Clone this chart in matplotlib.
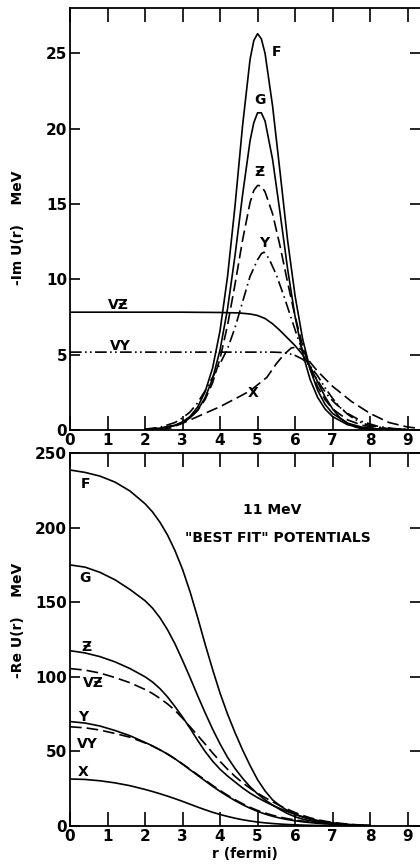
# imaginary and real parts of the 11 MeV "best fit" optical potentials
import matplotlib.pyplot as plt

plt.rcParams['font.family'] = ['DejaVu Sans']
plt.rcParams['font.weight'] = 'bold'

# ---- top panel: -Im U(r) ----
r_surf = [2.0, 2.4, 2.8, 3.0, 3.2, 3.4, 3.6, 3.8, 4.0, 4.2, 4.4, 4.6, 4.8, 4.9, 5.0,
          5.1, 5.2, 5.4, 5.6, 5.8, 6.0, 6.2, 6.4, 6.6, 6.8, 7.0, 7.4, 7.8, 8.2, 9.0]
im_F = [0.04, 0.11, 0.32, 0.54, 0.90, 1.52, 2.53, 4.10, 6.60, 10.2, 14.9, 20.2, 24.6, 25.85, 26.3,
        25.96, 24.99, 21.5, 17.1, 12.6, 8.9, 6.06, 4.04, 2.64, 1.70, 1.10, 0.45, 0.18, 0.07, 0.01]
im_G = [0.04, 0.11, 0.30, 0.49, 0.81, 1.32, 2.14, 3.40, 5.32, 8.05, 11.6, 15.6, 19.2, 20.4, 21.05,
        21.05, 20.5, 17.96, 14.4, 10.7, 7.52, 5.09, 3.36, 2.17, 1.39, 0.89, 0.35, 0.14, 0.05, 0.01]
im_Z = [0.05, 0.12, 0.32, 0.51, 0.81, 1.29, 2.02, 3.13, 4.75, 6.96, 9.69, 12.6, 15.1, 15.9, 16.23,
        16.2, 15.8, 14.35, 12.2, 9.8, 7.54, 5.6, 4.06, 2.88, 2.01, 1.40, 0.67, 0.31, 0.14, 0.03]

r_Y = [2.0, 2.4, 2.8, 3.0, 3.2, 3.4, 3.6, 3.8, 4.0, 4.2, 4.4, 4.6, 4.8, 5.0, 5.1, 5.17,
       5.3, 5.5, 5.7, 5.9, 6.1, 6.3, 6.5, 6.7, 6.9, 7.1, 7.4, 7.8, 8.2, 8.6, 9.0]
im_Y = [0.06, 0.18, 0.5, 0.8, 1.2, 1.8, 2.6, 3.5, 4.4, 5.4, 6.8, 8.5, 10.2, 11.3, 11.7, 11.8,
        11.4, 10.3, 8.9, 7.4, 5.9, 4.7, 3.7, 2.9, 2.2, 1.7, 1.1, 0.55, 0.25, 0.1, 0.04]

r_X = [2.4, 2.7, 3.0, 3.5, 4.0, 4.5, 4.8, 5.0, 5.25, 5.5, 5.7, 5.9, 6.05, 6.2, 6.4,
       6.6, 6.8, 7.0, 7.2, 7.5, 8.0, 8.5, 9.0, 9.33]
im_X = [0.0, 0.15, 0.45, 1.0, 1.55, 2.2, 2.6, 3.0, 3.5, 4.4, 5.0, 5.45, 5.5, 5.3, 4.5,
        3.9, 3.4, 2.9, 2.5, 1.9, 1.1, 0.5, 0.2, 0.1]

r_vol = [0.0, 1.0, 2.0, 3.0, 4.0, 4.5, 4.8, 5.0, 5.2, 5.4, 5.6, 5.8, 6.0, 6.2, 6.4,
         6.6, 6.8, 7.0, 7.2, 7.4, 7.6, 7.8, 8.0, 8.4, 9.0]
im_VZ = [7.82, 7.82, 7.82, 7.82, 7.8, 7.77, 7.7, 7.6, 7.4, 7.05, 6.6, 6.1, 5.6, 5.0, 4.2,
         3.2, 2.2, 1.4, 0.8, 0.45, 0.2, 0.08, 0.03, 0.0, 0.0]
im_VY = [5.17, 5.17, 5.17, 5.17, 5.17, 5.17, 5.17, 5.17, 5.17, 5.17, 5.15, 5.1, 4.95, 4.7, 4.25,
         3.6, 2.8, 2.1, 1.5, 1.05, 0.7, 0.45, 0.3, 0.12, 0.03]

# ---- bottom panel: -Re U(r) ----
r_re = [0.0, 0.4, 0.8, 1.2, 1.6,
        2.0, 2.2, 2.4, 2.6, 2.8, 3.0, 3.2, 3.4, 3.6, 3.8, 4.0,
        4.2, 4.4, 4.6, 4.8, 5.0, 5.2, 5.4, 5.6, 5.8, 6.0,
        6.2, 6.4, 6.6, 6.8, 7.0, 7.2, 7.4, 7.6, 7.8, 8.0]
re_F = [238.6, 237, 234.5, 230.5, 224.5,
        216, 210.5, 203.5, 195, 184.5, 172, 157, 140, 122, 105, 89,
        75, 62.5, 51, 40.5, 31, 23.5, 17.5, 13.5, 10.3, 7.9,
        6.0, 4.5, 3.4, 2.5, 1.8, 1.3, 0.9, 0.6, 0.4, 0.25]
re_G = [175, 173.5, 170, 165, 158.5,
        151, 146, 139.5, 131.5, 122, 111, 99.5, 87.5, 76, 65, 55,
        46, 38.5, 32, 26.3, 21.5, 17.5, 14, 11, 8.3, 6.2,
        4.6, 3.5, 2.6, 1.9, 1.4, 1.0, 0.7, 0.45, 0.3, 0.2]
re_Z = [117.5, 116, 113.5, 110, 105.5,
        100, 96.5, 92, 86.5, 80, 73, 65.5, 57.5, 50, 43.5, 38,
        33.5, 29.5, 25.5, 22, 19, 16.3, 13.9, 11.7, 9.6, 7.8,
        6.2, 4.8, 3.7, 2.8, 2.1, 1.5, 1.1, 0.75, 0.5, 0.3]
re_VZ = [105.5, 104.5, 102.5, 99.5, 96,
         91.5, 88.8, 85.5, 81.8, 77.5, 72.2, 66.5, 60.8, 55, 49, 43.3,
         38, 33.2, 29, 25.3, 22, 19, 16.2, 13.6, 11.2, 9,
         7.1, 5.5, 4.2, 3.2, 2.4, 1.8, 1.3, 0.9, 0.6, 0.4]
re_Y = [70, 69, 67, 64, 60.5,
        56, 53.7, 51, 48.2, 45, 41.4, 37.7, 34, 30.3, 26.6, 23.2,
        20, 17, 14.3, 11.9, 9.8, 8.0, 6.5, 5.3, 4.3, 3.5,
        2.8, 2.3, 1.8, 1.45, 1.15, 0.9, 0.7, 0.5, 0.35, 0.2]
re_VY = [66.5, 65.8, 64.3, 62, 59.5,
         55.7, 53.5, 51, 48.2, 45, 41.6, 38, 34.4, 30.8, 27.2, 23.8,
         20.6, 17.6, 14.9, 12.5, 10.4, 8.7, 7.2, 5.9, 4.9, 4.0,
         3.3, 2.7, 2.1, 1.7, 1.3, 1.0, 0.75, 0.55, 0.35, 0.2]
re_X = [31.5, 31.2, 30.3, 28.9, 27,
        24.5, 23.1, 21.6, 20, 18.3, 16.5, 14.6, 12.7, 10.9, 9.2, 7.7,
        6.4, 5.2, 4.2, 3.35, 2.65, 2.1, 1.65, 1.3, 1.0, 0.78,
        0.6, 0.45, 0.35, 0.25, 0.18, 0.12, 0.08, 0.05, 0.03, 0.02]

xticks = list(range(10))

solid = '-'
longdash = (0, (7, 3))
dashdot = (0, (7, 2.5, 1, 2.5))
dashdotdot = (0, (7, 2, 1, 2, 1, 2))
lw = 1.2

fig = plt.figure(figsize=(4.2, 8.67), dpi=100)
ax1 = fig.add_axes([0.1667, 0.504, 0.8333, 0.4867])
ax2 = fig.add_axes([0.1667, 0.0473, 0.8333, 0.4302])

# top panel
ax1.plot(r_surf, im_F, color='black', lw=lw, ls=solid)
ax1.plot(r_surf, im_G, color='black', lw=lw, ls=solid)
ax1.plot(r_surf, im_Z, color='black', lw=lw, ls=longdash)
ax1.plot(r_Y, im_Y, color='black', lw=lw, ls=dashdot)
ax1.plot(r_X, im_X, color='black', lw=lw, ls=longdash)
ax1.plot(r_vol, im_VZ, color='black', lw=lw, ls=solid)
ax1.plot(r_vol, im_VY, color='black', lw=lw, ls=dashdotdot)

ax1.text(5.5, 25.1, 'F', fontsize=10, fontweight='bold', ha='center', va='center')
ax1.text(5.05, 21.9, 'G', fontsize=10, fontweight='bold', ha='center', va='center')
ax1.text(5.05, 17.1, 'Ƶ', fontsize=10, fontweight='bold', ha='center', va='center')
ax1.text(5.17, 12.4, 'Y', fontsize=10, fontweight='bold', ha='center', va='center')
ax1.text(4.88, 2.45, 'X', fontsize=10, fontweight='bold', ha='center', va='center')
ax1.text(1.28, 8.3, 'VƵ', fontsize=10, fontweight='bold', ha='center', va='center')
ax1.text(1.33, 5.55, 'VY', fontsize=10, fontweight='bold', ha='center', va='center')

ax1.set_xlim(0, 9.33)
ax1.set_ylim(0, 28)
ax1.set_xticks(xticks)
ax1.set_yticks([0, 5, 10, 15, 20, 25])
ax1.set_ylabel('-Im U(r)    MeV', fontsize=10, fontweight='bold')
ax1.yaxis.set_label_coords(-0.13, 0.48)

# bottom panel
ax2.plot(r_re, re_F, color='black', lw=lw, ls=solid)
ax2.plot(r_re, re_G, color='black', lw=lw, ls=solid)
ax2.plot(r_re, re_Z, color='black', lw=lw, ls=solid)
ax2.plot(r_re, re_VZ, color='black', lw=lw, ls=longdash)
ax2.plot(r_re, re_Y, color='black', lw=lw, ls=solid)
ax2.plot(r_re, re_VY, color='black', lw=lw, ls=longdash)
ax2.plot(r_re, re_X, color='black', lw=lw, ls=solid)

ax2.text(0.4, 229, 'F', fontsize=10, fontweight='bold', ha='center', va='center')
ax2.text(0.4, 166, 'G', fontsize=10, fontweight='bold', ha='center', va='center')
ax2.text(0.45, 120, 'Ƶ', fontsize=10, fontweight='bold', ha='center', va='center')
ax2.text(0.62, 96, 'VƵ', fontsize=10, fontweight='bold', ha='center', va='center')
ax2.text(0.35, 73, 'Y', fontsize=10, fontweight='bold', ha='center', va='center')
ax2.text(0.45, 55, 'VY', fontsize=10, fontweight='bold', ha='center', va='center')
ax2.text(0.35, 36, 'X', fontsize=10, fontweight='bold', ha='center', va='center')
ax2.text(5.4, 212, '11 MeV', fontsize=10, fontweight='bold', ha='center', va='center')
ax2.text(5.55, 193, '"BEST FIT" POTENTIALS', fontsize=10, fontweight='bold',
         ha='center', va='center')

ax2.set_xlim(0, 9.33)
ax2.set_ylim(0, 250)
ax2.set_xticks(xticks)
ax2.set_yticks([0, 50, 100, 150, 200, 250])
ax2.set_ylabel('-Re U(r)    MeV', fontsize=10, fontweight='bold')
ax2.yaxis.set_label_coords(-0.13, 0.55)
ax2.set_xlabel('r (fermi)', fontsize=10, fontweight='bold', labelpad=2)

for ax in (ax1, ax2):
    ax.spines['right'].set_visible(False)
    for s in ('left', 'top', 'bottom'):
        ax.spines[s].set_linewidth(1.3)
    ax.tick_params(axis='x', direction='in', top=True, length=10, width=1.2,
                   labelsize=11, pad=2)
    ax.tick_params(axis='y', direction='in', right=True, length=7, width=1.2,
                   labelsize=11, pad=2)
    for lab in ax.get_xticklabels() + ax.get_yticklabels():
        lab.set_fontweight('bold')

fig.savefig('out.png', dpi=100)
